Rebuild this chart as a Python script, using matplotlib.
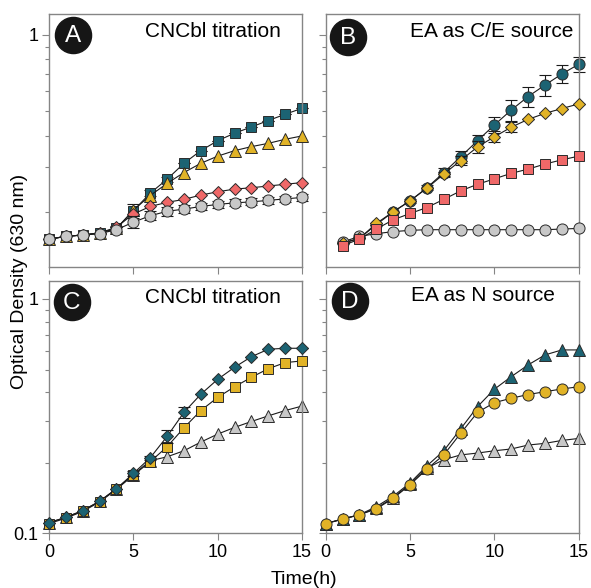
import matplotlib
matplotlib.use("Agg")
import matplotlib.pyplot as plt
import numpy as np
from matplotlib.ticker import LogLocator, FixedLocator, NullFormatter, FixedFormatter

plt.rcParams['font.family'] = ['Liberation Sans', 'DejaVu Sans']

# ---------------- data ----------------
t16 = list(range(0, 16))
t15 = list(range(1, 16))

# Panel A: CNCbl titration
A_teal_sq = [0.156, 0.160, 0.162, 0.165, 0.172, 0.202, 0.237, 0.269, 0.311, 0.349, 0.382, 0.409, 0.433, 0.459, 0.486, 0.513]
A_teal_err = [0, 0, 0, 0, 0.004, 0.013, 0.006, 0.006, 0, 0, 0, 0, 0, 0, 0, 0]
A_yel_tri = [0.156, 0.160, 0.162, 0.165, 0.172, 0.203, 0.232, 0.259, 0.286, 0.311, 0.332, 0.349, 0.362, 0.373, 0.387, 0.399]
A_red_dia = [0.156, 0.160, 0.162, 0.165, 0.174, 0.196, 0.210, 0.218, 0.224, 0.233, 0.240, 0.246, 0.249, 0.253, 0.257, 0.261]
A_gray_circ = [0.156, 0.160, 0.162, 0.164, 0.170, 0.182, 0.193, 0.201, 0.205, 0.210, 0.214, 0.217, 0.219, 0.222, 0.225, 0.228]
A_gray_err = [0, 0, 0, 0, 0.004, 0.010, 0.008, 0.008, 0.007, 0.007, 0.007, 0.007, 0.007, 0.007, 0.007, 0.007]

# Panel B: EA as C/E source (t = 1..15)
B_teal_circ = [0.151, 0.157, 0.178, 0.200, 0.221, 0.249, 0.286, 0.330, 0.382, 0.441, 0.505, 0.571, 0.634, 0.701, 0.766]
B_teal_err = [0, 0, 0, 0, 0.004, 0.006, 0.011, 0.018, 0.021, 0.033, 0.048, 0.054, 0.060, 0.057, 0.054]
B_gray_circ = [0.152, 0.160, 0.164, 0.167, 0.169, 0.170, 0.170, 0.170, 0.170, 0.170, 0.170, 0.170, 0.170, 0.171, 0.172]
B_yel_dia = [0.150, 0.157, 0.180, 0.200, 0.221, 0.248, 0.282, 0.319, 0.361, 0.396, 0.432, 0.464, 0.490, 0.512, 0.534]
B_yel_err = [0, 0, 0, 0, 0, 0, 0.006, 0.012, 0.020, 0.020, 0.020, 0, 0, 0, 0]
B_red_sq = [0.147, 0.156, 0.171, 0.186, 0.197, 0.208, 0.224, 0.242, 0.257, 0.270, 0.284, 0.295, 0.309, 0.321, 0.332]

# Panel C: CNCbl titration
C_teal_dia = [0.111, 0.117, 0.125, 0.137, 0.155, 0.180, 0.210, 0.259, 0.328, 0.392, 0.454, 0.511, 0.567, 0.610, 0.616, 0.616]
C_teal_err = [0, 0, 0, 0, 0, 0.004, 0.004, 0.016, 0.019, 0, 0, 0, 0, 0, 0, 0]
C_yel_sq = [0.110, 0.116, 0.124, 0.136, 0.154, 0.177, 0.202, 0.234, 0.282, 0.334, 0.380, 0.422, 0.463, 0.504, 0.535, 0.544]
C_gray_tri = [0.111, 0.117, 0.125, 0.137, 0.155, 0.178, 0.204, 0.212, 0.225, 0.245, 0.265, 0.283, 0.300, 0.317, 0.334, 0.349]

# Panel D: EA as N source
D_teal_tri = [0.110, 0.115, 0.120, 0.130, 0.144, 0.164, 0.194, 0.225, 0.279, 0.347, 0.412, 0.466, 0.523, 0.577, 0.606, 0.606]
D_yel_circ = [0.110, 0.115, 0.120, 0.127, 0.141, 0.161, 0.188, 0.216, 0.267, 0.328, 0.361, 0.377, 0.391, 0.402, 0.413, 0.422]
D_gray_tri = [0.110, 0.115, 0.120, 0.128, 0.142, 0.162, 0.190, 0.206, 0.216, 0.220, 0.225, 0.229, 0.238, 0.242, 0.249, 0.254]

panel_letters = ['A', 'B', 'C', 'D']
panel_titles = ['CNCbl titration', 'EA as C/E source', 'CNCbl titration', 'EA as N source']
x_ticks = [0, 5, 10, 15]

# ---------------- style ----------------
TEAL = '#1c6373'
YEL = '#e1b327'
RED = '#ef6868'
GRAY = '#c8c8c8'
EDGE = '#2a2a2a'
FRAME = '#858585'

fig = plt.figure(figsize=(5.91, 5.88), dpi=100)
W, H = 591.0, 588.0
axA = fig.add_axes([49 / W, (H - 266.7) / H, 253 / W, 252.4 / H])
axB = fig.add_axes([325.7 / W, (H - 266.7) / H, 253 / W, 252.4 / H])
axC = fig.add_axes([49 / W, (H - 533.3) / H, 253 / W, 252.3 / H])
axD = fig.add_axes([325.7 / W, (H - 533.3) / H, 253 / W, 252.3 / H])
axes = [axA, axB, axC, axD]


def series(ax, x, y, marker, color, ms, z, err=None):
    ax.plot(x, y, '-', color='#1a1a1a', lw=0.8, zorder=z, clip_on=False)
    if err is not None:
        ax.errorbar(x, y, yerr=err, fmt='none', ecolor='#1a1a1a', elinewidth=0.8,
                    capsize=4.5, capthick=0.8, zorder=z, clip_on=False)
    ax.plot(x, y, linestyle='none', marker=marker, ms=ms, mfc=color, mec=EDGE,
            mew=0.7, zorder=z + 0.5, clip_on=False)


SQ, TRI, DIA, CIR = 7.3, 8.6, 6.2, 8.0

series(axA, t16, A_teal_sq, 's', TEAL, SQ, 2, A_teal_err)
series(axA, t16, A_yel_tri, '^', YEL, TRI, 3)
series(axA, t16, A_red_dia, 'D', RED, DIA, 4)
series(axA, t16, A_gray_circ, 'o', GRAY, CIR, 5, A_gray_err)

series(axB, t15, B_teal_circ, 'o', TEAL, CIR, 2, B_teal_err)
series(axB, t15, B_gray_circ, 'o', GRAY, CIR, 3)
series(axB, t15, B_yel_dia, 'D', YEL, DIA, 4, B_yel_err)
series(axB, t15, B_red_sq, 's', RED, SQ, 5)

series(axC, t16, C_gray_tri, '^', GRAY, TRI, 2)
series(axC, t16, C_yel_sq, 's', YEL, SQ, 3)
series(axC, t16, C_teal_dia, 'D', TEAL, DIA, 4, C_teal_err)

series(axD, t16, D_gray_tri, '^', GRAY, TRI, 2)
series(axD, t16, D_teal_tri, '^', TEAL, TRI, 3)
series(axD, t16, D_yel_circ, 'o', YEL, CIR, 4)

letter_pos = [(0.093, 0.918), (0.089, 0.912), (0.090, 0.915), (0.096, 0.922)]
title_pos = [(0.380, 0.931), (0.334, 0.931), (0.380, 0.934), (0.338, 0.943)]

for i, ax in enumerate(axes):
    ax.set_yscale('log')
    ax.set_xlim(0, 15)
    if i < 2:
        ax.set_ylim(0.1214, 1.207)
    else:
        ax.set_ylim(0.1, 1.193)
    for s in ax.spines.values():
        s.set_color(FRAME)
        s.set_linewidth(1.0)
    ax.xaxis.set_major_locator(FixedLocator(x_ticks))
    ax.yaxis.set_major_locator(FixedLocator([0.1, 1]))
    ax.yaxis.set_minor_locator(LogLocator(base=10, subs=np.arange(2, 10)))
    ax.yaxis.set_minor_formatter(NullFormatter())
    ax.tick_params(which='major', direction='out', length=5, width=0.8, color=FRAME,
                   labelsize=13, pad=2.5)
    ax.tick_params(which='minor', direction='out', length=3, width=0.8, color=FRAME)
    ax.xaxis.set_minor_locator(FixedLocator([]))
    if i in (0, 2):
        ax.yaxis.set_major_formatter(FixedFormatter(['0.1', '1']))
    else:
        ax.set_yticklabels([])
    if i < 2:
        ax.set_xticklabels([])
    else:
        ax.set_xticklabels([str(v) for v in x_ticks])
    lx, ly = letter_pos[i]
    ax.plot(lx, ly, 'o', ms=26, color='#161616', transform=ax.transAxes,
            clip_on=False, zorder=20)
    ax.text(lx, ly - 0.004, panel_letters[i], transform=ax.transAxes, color='white',
            fontsize=17.5, ha='center', va='center', zorder=21)
    tx, ty = title_pos[i]
    ax.text(tx, ty, panel_titles[i], transform=ax.transAxes, fontsize=15,
            ha='left', va='center', zorder=21)

fig.text(19.5 / W, 1 - 281 / H, 'Optical Density (630 nm)', rotation=90,
         fontsize=14, ha='center', va='center')
fig.text(304 / W, 1 - 579 / H, 'Time(h)', fontsize=14, ha='center', va='center')

fig.savefig('out.png', dpi=100)
